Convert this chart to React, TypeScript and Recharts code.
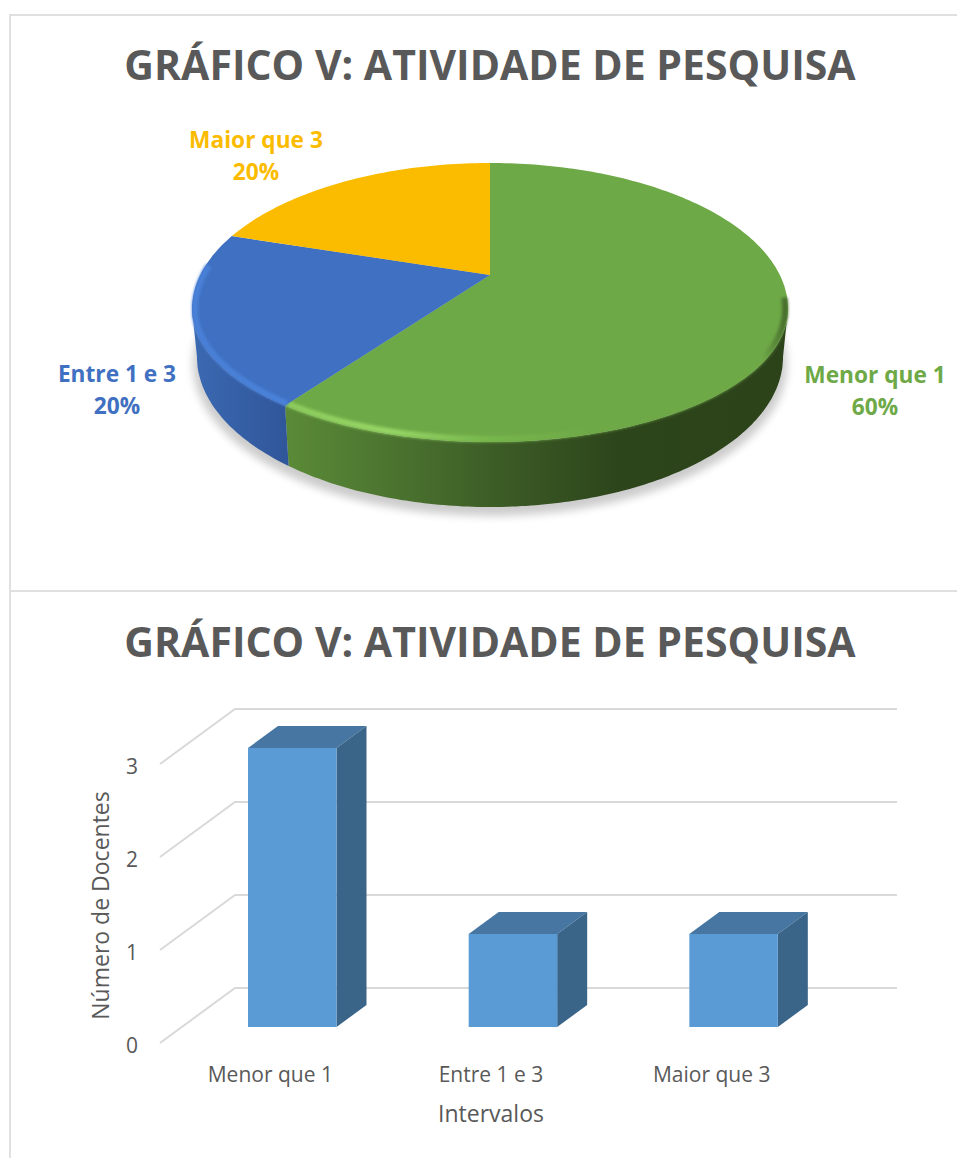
import { Bar, BarChart, CartesianGrid, Label, Pie, PieChart, XAxis, YAxis } from 'recharts'

const categories = ['Menor que 1', 'Entre 1 e 3', 'Maior que 3']
const docentes = [3, 1, 1]
const pieColors = ['#6ea947', '#3f70c1', '#fbbc00']
const yTicks = [0, 1, 2, 3]

const titleText = 'GRÁFICO V: ATIVIDADE DE PESQUISA'
const total = docentes.reduce((a, b) => a + b, 0)
const pieData = categories.map((name, i) => ({ name, value: docentes[i], fill: pieColors[i] }))
const barData = categories.map((name, i) => ({ name, value: docentes[i] }))

const FONT = '"Open Sans", sans-serif'
const INK = '#595959'
const GRID = '#d9d9d9'

// tilted pie look
const PIE_RX = 298
const APEX_DY = 34 // apex sits above the centre of the rim ellipse
const RY_BACK = 146
const RY_FRONT = 133
const RAY_K = 138
const WALL_RX = 293
const WALL_RY = 150
const WALL_DY = 48
const labelPos = [
  { x: 875, y: 383 },
  { x: 117, y: 382 },
  { x: 256, y: 148 },
]

// bar depth on the floor
const WALL_X = 75
const WALL_Y = 55
const BAR_X = 22
const BAR_Y = 16
const SIDE_X = 30
const SIDE_Y = 22

const rimPoint = (phi: number, cx: number, cy: number, inset = 0) => {
  const s = Math.sin(phi)
  return {
    x: cx + (PIE_RX - inset) * Math.cos(phi),
    y: cy + (s > 0 ? RY_FRONT - inset : RY_BACK - inset) * s,
  }
}

const wallPoint = (phi: number, cx: number, cy: number) => ({
  x: cx + WALL_RX * Math.cos(phi),
  y: cy + WALL_DY + WALL_RY * Math.sin(phi),
})

// rim angle hit by a ray leaving the apex at a pie angle
const rimAngle = (deg: number) => {
  const a = (deg * Math.PI) / 180
  const u = Math.cos(a)
  for (const ry of [RY_BACK, RY_FRONT]) {
    const v = (-Math.sin(a) * RAY_K) / ry
    const w = -APEX_DY / ry
    const A = u * u + v * v
    const t = (-v * w + Math.sqrt(v * v * w * w + A * (1 - w * w))) / A
    const y = t * v + w
    if ((ry === RY_BACK && y <= 0) || (ry === RY_FRONT && y > 0)) return Math.atan2(y, t * u)
  }
  return 0
}

const steps = (from: number, to: number) => {
  const out: number[] = []
  const n = Math.max(2, Math.ceil((to - from) * 60))
  for (let i = 0; i <= n; i++) out.push(from + ((to - from) * i) / n)
  return out
}

const toPath = (pts: { x: number; y: number }[]) =>
  pts.map((p, i) => `${i ? 'L' : 'M'}${p.x.toFixed(1)} ${p.y.toFixed(1)}`).join(' ')

const PieDefs = () => (
  <defs>
    <filter id="soft" x="-10%" y="-10%" width="120%" height="120%">
      <feGaussianBlur stdDeviation="4.5" />
    </filter>
    <filter id="rimBlur" x="-10%" y="-10%" width="120%" height="120%">
      <feGaussianBlur stdDeviation="1.4" />
    </filter>
    <linearGradient id="wall0" gradientUnits="userSpaceOnUse" x1="288" y1="0" x2="787" y2="0">
      <stop offset="0" stopColor="#5a8a37" />
      <stop offset="0.2" stopColor="#4c7530" />
      <stop offset="0.42" stopColor="#3c5c26" />
      <stop offset="0.66" stopColor="#2d451b" />
      <stop offset="1" stopColor="#2c431a" />
    </linearGradient>
    <linearGradient id="wall1" gradientUnits="userSpaceOnUse" x1="191" y1="0" x2="288" y2="0">
      <stop offset="0" stopColor="#3b69b2" />
      <stop offset="1" stopColor="#30569a" />
    </linearGradient>
    <linearGradient id="rim0" gradientUnits="userSpaceOnUse" x1="288" y1="0" x2="787" y2="0">
      <stop offset="0" stopColor="#8ccb5c" />
      <stop offset="0.2" stopColor="#97d766" />
      <stop offset="0.4" stopColor="#78b74d" />
      <stop offset="0.6" stopColor="#6ea947" />
      <stop offset="0.95" stopColor="#6ea947" />
      <stop offset="1" stopColor="#44682b" />
    </linearGradient>
    <linearGradient id="rim1" gradientUnits="userSpaceOnUse" x1="191" y1="0" x2="288" y2="0">
      <stop offset="0" stopColor="#4a80d8" />
      <stop offset="1" stopColor="#4a82da" />
    </linearGradient>
  </defs>
)

const PieSlice = (props: any) => {
  const { cx, cy, startAngle, endAngle, fill, name } = props
  const index = categories.indexOf(name)
  const rimCy = cy + APEX_DY
  let phi0 = rimAngle(startAngle)
  let phi1 = rimAngle(endAngle)
  while (phi1 <= phi0) phi1 += Math.PI * 2
  // all three start from the top going clockwise, keep angles in -90..270
  if (phi0 < -Math.PI / 2 - 0.001) {
    phi0 += Math.PI * 2
    phi1 += Math.PI * 2
  }
  const face = [{ x: cx, y: cy }, ...steps(phi0, phi1).map((p) => rimPoint(p, cx, rimCy))]
  const wallFrom = Math.max(phi0, 0)
  const wallTo = Math.min(phi1, Math.PI)
  const hasWall = wallTo > wallFrom
  const wall = hasWall
    ? [
        ...steps(wallFrom, wallTo).map((p) => rimPoint(p, cx, rimCy)),
        ...steps(wallFrom, wallTo)
          .reverse()
          .map((p) => wallPoint(p, cx, rimCy)),
      ]
    : []
  const rimFrom = index === 0 ? -0.08 : phi0
  const rimTo = index === 1 ? 3.45 : phi1
  return (
    <g>
      {index === 0 && <PieDefs />}
      {index === 0 && (
        <ellipse cx={cx} cy={rimCy + WALL_DY + 7} rx={WALL_RX + 4} ry={WALL_RY + 2} fill="#000" opacity={0.2} filter="url(#soft)" />
      )}
      {hasWall && <path d={`${toPath(wall)} Z`} fill={`url(#wall${index})`} />}
      <path d={`${toPath(face)} Z`} fill={fill} />
      {index < 2 && (
        <path
          d={toPath(steps(rimFrom, rimTo).map((p) => rimPoint(p, cx, rimCy, 3)))}
          fill="none"
          stroke={`url(#rim${index})`}
          strokeWidth={6}
          filter="url(#rimBlur)"
        />
      )}
    </g>
  )
}

const PieLabel = (props: any) => {
  const index = categories.indexOf(props.name)
  const pos = labelPos[index]
  return (
    <text x={pos.x} y={pos.y} textAnchor="middle" fill={pieColors[index]} fontFamily={FONT} fontSize={22.7} fontWeight={700}>
      <tspan x={pos.x}>{props.name}</tspan>
      <tspan x={pos.x} dy={32}>{`${Math.round((props.value / total) * 100)}%`}</tspan>
    </text>
  )
}

const Title = ({ y }: { y: number }) => (
  <text x={490} y={y} textAnchor="middle" fill={INK} fontFamily={FONT} fontSize={41} fontWeight={700}>
    {titleText}
  </text>
)

const Bar3D = (props: any) => {
  const { x, y, width, height } = props
  const left = x + BAR_X
  const right = left + width
  const top = y - BAR_Y
  const bottom = top + height
  return (
    <g>
      <path d={`M${left} ${top} L${left + SIDE_X} ${top - SIDE_Y} H${right + SIDE_X} L${right} ${top} Z`} fill="#4676a1" />
      <path d={`M${right} ${top} L${right + SIDE_X} ${top - SIDE_Y} V${bottom - SIDE_Y} L${right} ${bottom} Z`} fill="#3a6589" />
      <rect x={left} y={top} width={width} height={height} fill="#5b9bd5" />
    </g>
  )
}

const gridLine = (props: any) => {
  const { x1, x2, y1, key } = props
  return (
    <path
      key={key}
      d={`M${x1} ${y1} L${x1 + WALL_X} ${y1 - WALL_Y} H${x2 + WALL_X}`}
      fill="none"
      stroke={GRID}
      strokeWidth={2}
    />
  )
}

export default function App() {
  return (
    <div style={{ position: 'absolute', left: 0, top: 0, width: 957, height: 1158, overflow: 'hidden', background: '#fff' }}>
      <div style={{ position: 'absolute', left: 9, top: 14, width: 948, height: 1144, borderTop: '2px solid #e0e0e0', borderLeft: '2px solid #e0e0e0', boxSizing: 'border-box' }} />
      <div style={{ position: 'absolute', left: 9, top: 590, width: 948, borderTop: '2px solid #e0e0e0' }} />

      <div style={{ position: 'absolute', left: 0, top: 0 }}>
        <PieChart width={957} height={590} margin={{ top: 0, right: 0, bottom: 0, left: 0 }}>
          <Title y={80} />
          <Pie
            data={pieData}
            dataKey="value"
            nameKey="name"
            cx={490}
            cy={275}
            outerRadius={PIE_RX}
            startAngle={90}
            endAngle={-270}
            stroke="none"
            shape={PieSlice}
            label={PieLabel}
            labelLine={false}
            isAnimationActive={false}
          />
        </PieChart>
      </div>

      <div style={{ position: 'absolute', left: 0, top: 590 }}>
        <BarChart width={957} height={568} data={barData} barSize={88.5} margin={{ top: 174, right: 135, bottom: 0, left: 100 }}>
          <Title y={67} />
          <CartesianGrid vertical={false} horizontal={gridLine} />
          <XAxis
            dataKey="name"
            height={115}
            axisLine={false}
            tickLine={false}
            tickSize={0}
            tickMargin={24}
            tick={{ fill: INK, fontFamily: FONT, fontSize: 21 }}
          >
            <Label
              content={({ viewBox }: any) => (
                <text x={viewBox.x + viewBox.width / 2} y={viewBox.y + 79} textAnchor="middle" fill={INK} fontFamily={FONT} fontSize={23}>
                  Intervalos
                </text>
              )}
            />
          </XAxis>
          <YAxis
            domain={[0, 3]}
            ticks={yTicks}
            width={60}
            axisLine={false}
            tickLine={false}
            tickSize={0}
            tickMargin={22}
            tick={{ fill: INK, fontFamily: FONT, fontSize: 21, dy: 3 }}
          >
            <Label
              content={({ viewBox }: any) => {
                const x = viewBox.x + 9
                const y = viewBox.y + viewBox.height / 2
                return (
                  <text x={x} y={y + 2} transform={`rotate(-90 ${x} ${y + 2})`} textAnchor="middle" fill={INK} fontFamily={FONT} fontSize={23}>
                    Número de Docentes
                  </text>
                )
              }}
            />
          </YAxis>
          <Bar dataKey="value" shape={Bar3D} isAnimationActive={false} />
        </BarChart>
      </div>
    </div>
  )
}
